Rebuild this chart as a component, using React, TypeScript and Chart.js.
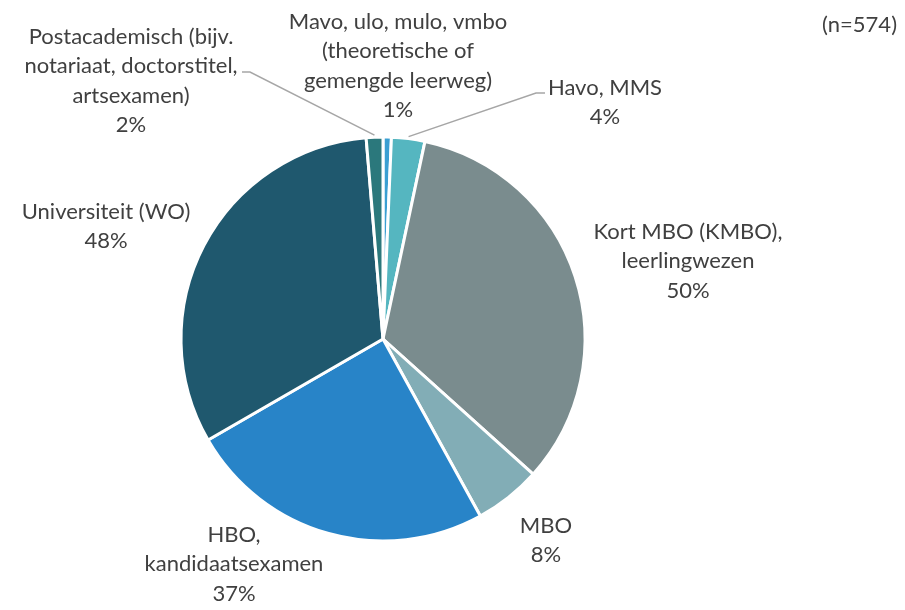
import React, { useEffect, useRef } from "react";
import { Chart, registerables } from "chart.js";

Chart.register(...registerables);

const categories = [
  "Mavo, ulo, mulo, vmbo (theoretische of gemengde leerweg)",
  "Havo, MMS",
  "Kort MBO (KMBO), leerlingwezen",
  "MBO",
  "HBO, kandidaatsexamen",
  "Universiteit (WO)",
  "Postacademisch (bijv. notariaat, doctorstitel, artsexamen)",
];
const values = [1, 4, 50, 8, 37, 48, 2];
const valueLabels = ["1%", "4%", "50%", "8%", "37%", "48%", "2%"];
const labelLines = [
  ["Mavo, ulo, mulo, vmbo", "(theoretische of", "gemengde leerweg)"],
  ["Havo, MMS"],
  ["Kort MBO (KMBO),", "leerlingwezen"],
  ["MBO"],
  ["HBO,", "kandidaatsexamen"],
  ["Universiteit (WO)"],
  ["Postacademisch (bijv.", "notariaat, doctorstitel,", "artsexamen)"],
];
const sampleNote = "(n=574)";

const sliceColors = ["#3a9fd2", "#55b6c0", "#7a8c8e", "#82adb6", "#2884c8", "#1f586e", "#2b787c"];

// label block layout: center x, first line y, optional leader path start points
const labelLayout = [
  { x: 398, y: 22, leader: null },
  { x: 605, y: 88, leader: [[545, 93], [536, 93]] },
  { x: 688, y: 232, leader: null },
  { x: 546, y: 526, leader: null },
  { x: 234, y: 535, leader: null },
  { x: 106, y: 212, leader: null },
  { x: 131, y: 37, leader: [[242, 72], [250, 72]] },
];
const LINE_H = 29.3;
const FONT = "22px Lato";
const TEXT_COLOR = "#404040";

const labelPlugin = {
  id: "outerLabels",
  afterDraw(chart: any) {
    const ctx = chart.ctx;
    const meta = chart.getDatasetMeta(0);
    ctx.save();
    ctx.font = FONT;
    ctx.fillStyle = TEXT_COLOR;
    ctx.textAlign = "center";
    ctx.textBaseline = "middle";
    meta.data.forEach((arc: any, i: number) => {
      const lay = labelLayout[i];
      const lines = [...labelLines[i], valueLabels[i]];
      lines.forEach((t, k) => ctx.fillText(t, lay.x, lay.y + k * LINE_H));
      if (lay.leader) {
        const p = arc.getProps(["x", "y", "startAngle", "endAngle", "outerRadius"], true);
        const mid = (p.startAngle + p.endAngle) / 2;
        const ex = p.x + (p.outerRadius + 2) * Math.cos(mid);
        const ey = p.y + (p.outerRadius + 2) * Math.sin(mid);
        ctx.beginPath();
        ctx.strokeStyle = "#a6a6a6";
        ctx.lineWidth = 1.5;
        ctx.moveTo(lay.leader[0][0], lay.leader[0][1]);
        for (let k = 1; k < lay.leader.length; k++) ctx.lineTo(lay.leader[k][0], lay.leader[k][1]);
        ctx.lineTo(ex, ey);
        ctx.stroke();
      }
    });
    ctx.textAlign = "right";
    ctx.fillText(sampleNote, 897, 25);
    ctx.restore();
  },
};

export default function App() {
  const ref = useRef<HTMLCanvasElement | null>(null);
  useEffect(() => {
    if (!ref.current) return;
    const chart = new Chart(ref.current, {
      type: "pie",
      data: {
        labels: categories,
        datasets: [
          {
            data: values,
            backgroundColor: sliceColors,
            borderColor: "#ffffff",
            borderWidth: 3,
          },
        ],
      },
      options: {
        responsive: false,
        animation: false,
        events: [],
        radius: 202,
        layout: { padding: { left: 0, right: 139, top: 68, bottom: 0 } },
        plugins: { legend: { display: false }, tooltip: { enabled: false } },
      } as any,
      plugins: [labelPlugin],
    });
    return () => chart.destroy();
  }, []);
  return (
    <div style={{ position: "absolute", left: 0, top: 0, width: 905, height: 610, background: "#fff" }}>
      <canvas ref={ref} width={905} height={610} />
    </div>
  );
}
